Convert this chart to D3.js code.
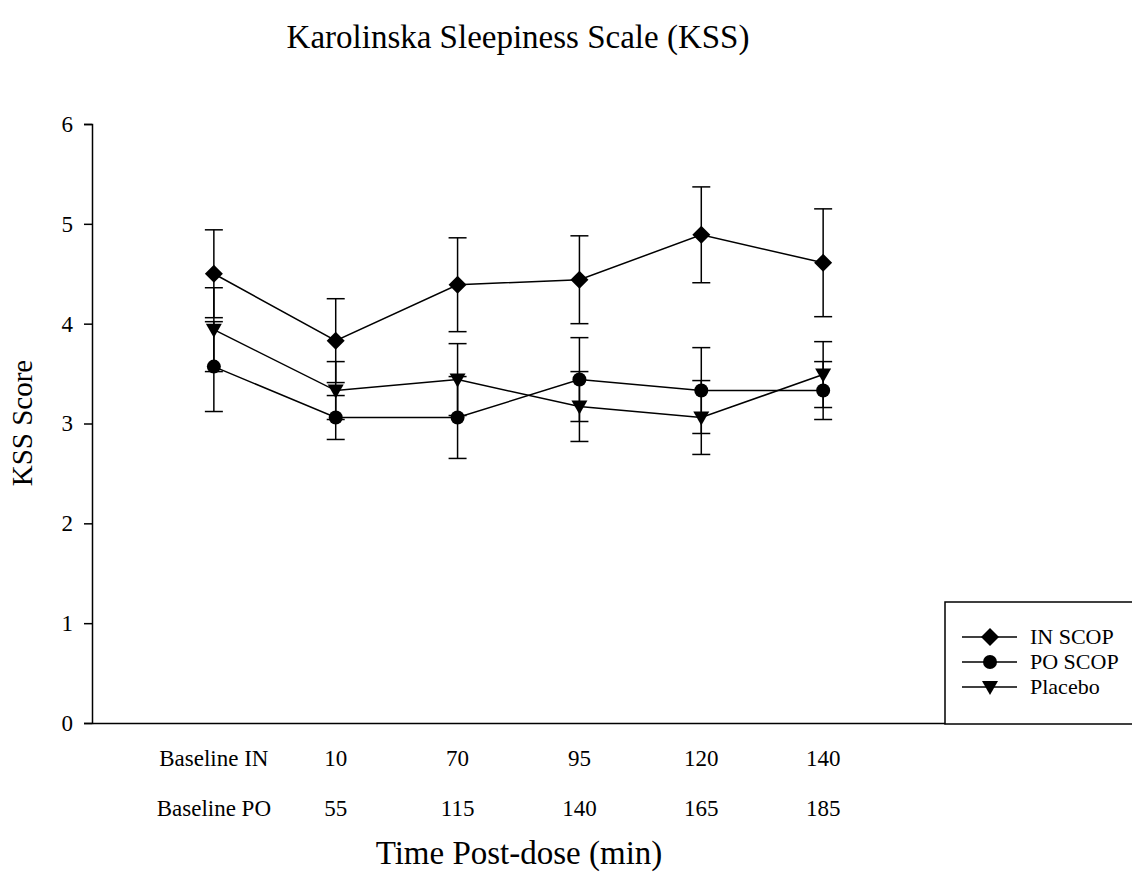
<!DOCTYPE html>
<html>
<head>
<meta charset="utf-8">
<script src="https://cdn.jsdelivr.net/npm/d3@7"></script>
<style>
  html, body { margin: 0; padding: 0; background: #fff; }
  svg text { font-family: "Liberation Serif", "Times New Roman", serif; fill: #000; }
</style>
</head>
<body>
<svg id="chart" width="1132" height="877"></svg>
<script>
// ---- data ----
const labelsIN = ["Baseline IN", "10", "70", "95", "120", "140"];
const labelsPO = ["Baseline PO", "55", "115", "140", "165", "185"];
const yTicks = [0, 1, 2, 3, 4, 5, 6];
const seriesNames = ["IN SCOP", "PO SCOP", "Placebo"];
const inScop = [4.50, 3.83, 4.39, 4.44, 4.89, 4.61];
const inScopErr = [0.44, 0.42, 0.47, 0.44, 0.48, 0.54];
const poScop = [3.57, 3.06, 3.06, 3.44, 3.33, 3.33];
const poScopErr = [0.45, 0.22, 0.41, 0.42, 0.43, 0.29];
const placebo = [3.94, 3.33, 3.44, 3.17, 3.06, 3.49];
const placeboErr = [0.42, 0.29, 0.36, 0.35, 0.37, 0.33];

const series = [
  { name: seriesNames[0], values: inScop, err: inScopErr, shape: "diamond" },
  { name: seriesNames[1], values: poScop, err: poScopErr, shape: "circle" },
  { name: seriesNames[2], values: placebo, err: placeboErr, shape: "triangle" }
];

const svg = d3.select("#chart");
const x = d3.scaleLinear().domain([-1, 6]).range([92, 945]);
const y = d3.scaleLinear().domain([0, 6]).range([723, 124]);

function markerPath(shape) {
  const p = d3.path();
  if (shape === "diamond") {
    p.moveTo(0, -9); p.lineTo(9, 0); p.lineTo(0, 9); p.lineTo(-9, 0); p.closePath();
  } else if (shape === "circle") {
    p.arc(0, 0, 7, 0, 2 * Math.PI);
  } else {
    p.moveTo(-8, -6); p.lineTo(8, -6); p.lineTo(0, 8); p.closePath();
  }
  return p.toString();
}

// title
svg.append("text").attr("x", 518).attr("y", 48).attr("text-anchor", "middle")
  .style("font-size", "33px").text("Karolinska Sleepiness Scale (KSS)");

// y axis
const yAxis = d3.axisLeft(y).tickValues(yTicks).tickSize(8).tickPadding(11).tickFormat(d3.format("d"));
const gy = svg.append("g").attr("transform", "translate(92,0)").call(yAxis);
gy.select(".domain").attr("stroke", "#000").attr("stroke-width", 1.5);
gy.selectAll(".tick line").attr("stroke", "#000").attr("stroke-width", 1.5);
gy.selectAll(".tick text").style("font-size", "23px").attr("font-family", null);

// x axis baseline
const xAxis = d3.axisBottom(x).tickValues([]).tickSize(0).tickSizeOuter(0);
const gx = svg.append("g").attr("transform", "translate(0,723)").call(xAxis);
gx.select(".domain").attr("stroke", "#000").attr("stroke-width", 1.5);

// category label rows
svg.append("g").selectAll("text").data(labelsIN).join("text")
  .attr("x", (d, i) => x(i)).attr("y", 766).attr("text-anchor", "middle")
  .style("font-size", "23px").text(d => d);
svg.append("g").selectAll("text").data(labelsPO).join("text")
  .attr("x", (d, i) => x(i)).attr("y", 816).attr("text-anchor", "middle")
  .style("font-size", "23px").text(d => d);

// axis titles
svg.append("text").attr("x", 519).attr("y", 864).attr("text-anchor", "middle")
  .style("font-size", "33px").text("Time Post-dose (min)");
svg.append("text").attr("transform", "translate(32,423) rotate(-90)").attr("text-anchor", "middle")
  .style("font-size", "29px").text("KSS Score");

// error bars
const gErr = svg.append("g").attr("stroke", "#000").attr("stroke-width", 1.5).attr("fill", "none");
series.forEach(s => {
  s.values.forEach((v, i) => {
    const cx = x(i), top = y(v + s.err[i]), bot = y(v - s.err[i]);
    gErr.append("line").attr("x1", cx).attr("x2", cx).attr("y1", top).attr("y2", bot);
    gErr.append("line").attr("x1", cx - 9).attr("x2", cx + 9).attr("y1", top).attr("y2", top);
    gErr.append("line").attr("x1", cx - 9).attr("x2", cx + 9).attr("y1", bot).attr("y2", bot);
  });
});

// lines
const line = d3.line().x((d, i) => x(i)).y(d => y(d));
series.forEach(s => {
  svg.append("path").attr("d", line(s.values)).attr("fill", "none")
    .attr("stroke", "#000").attr("stroke-width", 1.5);
});

// markers
series.forEach(s => {
  svg.append("g").selectAll("path").data(s.values).join("path")
    .attr("d", markerPath(s.shape))
    .attr("transform", (d, i) => `translate(${x(i)},${y(d)})`)
    .attr("fill", "#000");
});

// legend
const lg = svg.append("g");
lg.append("rect").attr("x", 945).attr("y", 602).attr("width", 200).attr("height", 122)
  .attr("fill", "#fff").attr("stroke", "#000").attr("stroke-width", 1.5);
series.forEach((s, k) => {
  const ly = 637 + k * 25;
  lg.append("line").attr("x1", 962).attr("x2", 1017).attr("y1", ly).attr("y2", ly)
    .attr("stroke", "#000").attr("stroke-width", 1.5);
  lg.append("path").attr("d", markerPath(s.shape)).attr("transform", `translate(990,${ly})`).attr("fill", "#000");
  lg.append("text").attr("x", 1030).attr("y", ly + 7).style("font-size", "22px").text(s.name);
});
</script>
</body>
</html>
